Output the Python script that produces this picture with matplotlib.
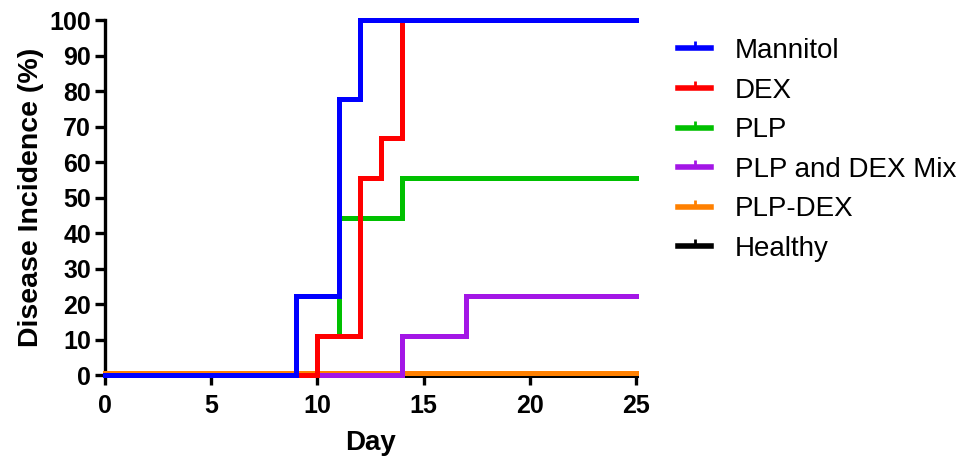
import matplotlib.pyplot as plt
from matplotlib.lines import Line2D

# step data (value holds from each day until the next one)
mannitol_day = [0, 9, 11, 12, 25]
mannitol_pct = [0, 22.2, 77.8, 100, 100]

dex_day = [0, 10, 12, 13, 14, 25]
dex_pct = [0, 11.1, 55.6, 66.7, 100, 100]

plp_day = [0, 10, 11, 14, 25]
plp_pct = [0, 11.1, 44.4, 55.6, 55.6]

mix_day = [0, 14, 17, 25]
mix_pct = [0, 11.1, 22.2, 22.2]

plpdex_day = [0, 25]
plpdex_pct = [0.6, 0.6]

healthy_day = [0, 25]
healthy_pct = [0, 0]

names = ['Mannitol', 'DEX', 'PLP', 'PLP and DEX Mix', 'PLP-DEX', 'Healthy']
colors = ['#0000FF', '#FF0000', '#00C000', '#A316E6', '#FF8000', '#000000']
days = [mannitol_day, dex_day, plp_day, mix_day, plpdex_day, healthy_day]
pcts = [mannitol_pct, dex_pct, plp_pct, mix_pct, plpdex_pct, healthy_pct]

fam = ['Liberation Sans', 'DejaVu Sans']

fig = plt.figure(figsize=(9.68, 4.58), dpi=100)
ax = fig.add_axes([0.1085, 0.181, 0.5485, 0.775])

# draw last group first so Mannitol ends on top
for i in reversed(range(len(names))):
    ax.step(days[i], pcts[i], where='post', color=colors[i], lw=3.6,
            solid_joinstyle='miter', clip_on=False, zorder=3)

ax.set_xlim(0, 25)
ax.set_ylim(0, 100)
ax.set_xticks(range(0, 26, 5))
ax.set_yticks(range(0, 101, 10))
for s in ['top', 'right']:
    ax.spines[s].set_visible(False)
for s in ['left', 'bottom']:
    ax.spines[s].set_linewidth(2.4)
ax.tick_params(width=2.4, length=7, direction='out', pad=3)
for lab in ax.get_xticklabels() + ax.get_yticklabels():
    lab.set_fontproperties(dict(family=fam, weight='bold', size=18))
ax.tick_params(axis='x', pad=6.5)

ax.set_xlabel('Day', fontsize=20, labelpad=9, family=fam, weight='bold')
ax.set_ylabel('Disease Incidence (%)', fontsize=20.5, labelpad=4, family=fam, weight='bold')

handles = [Line2D([], [], color=c, lw=4, marker=2, markersize=5, markeredgewidth=2)
           for c in colors]
ax.legend(handles, names, loc='upper left', bbox_to_anchor=(1.032, 1.02), frameon=False,
          prop=dict(family=fam, size=20), handlelength=1.2,
          handletextpad=0.85, labelspacing=0.49)

fig.savefig('out.png', dpi=100)
